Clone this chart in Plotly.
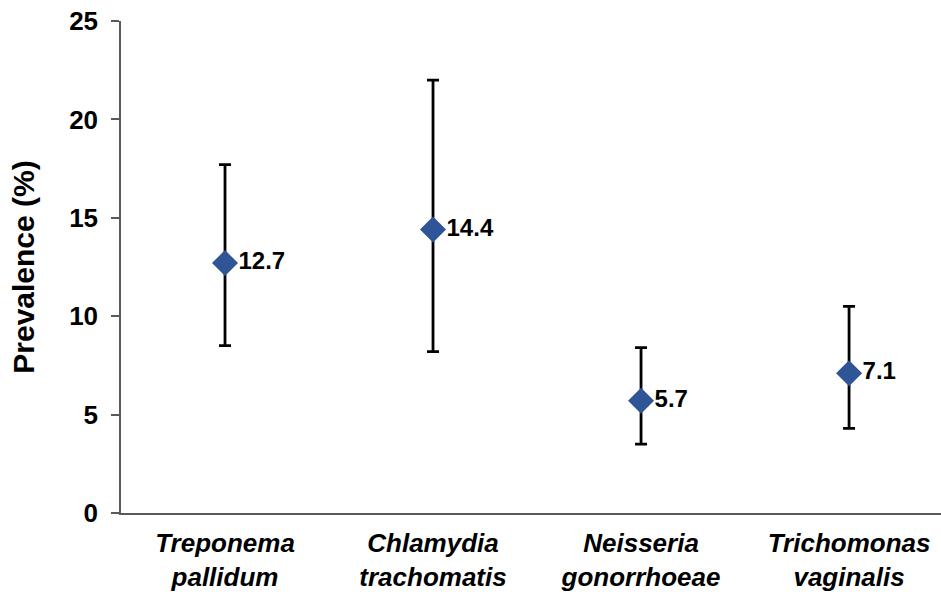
import plotly.graph_objects as go

categories = ["Treponema<br>pallidum", "Chlamydia<br>trachomatis", "Neisseria<br>gonorrhoeae", "Trichomonas<br>vaginalis"]
prevalence = [12.7, 14.4, 5.7, 7.1]
ci_low = [8.5, 8.2, 3.5, 4.3]
ci_high = [17.7, 22.0, 8.4, 10.5]
y_ticks = [0, 5, 10, 15, 20, 25]

x_pos = list(range(len(categories)))
err_plus = [h - v for h, v in zip(ci_high, prevalence)]
err_minus = [v - l for v, l in zip(prevalence, ci_low)]

FONT = "Liberation Sans, Arial, sans-serif"

fig = go.Figure()
fig.add_trace(go.Scatter(
    x=x_pos, y=prevalence,
    mode="markers+text",
    marker=dict(symbol="diamond", size=20, color="#2F5597", line=dict(width=0)),
    error_y=dict(type="data", symmetric=False, array=err_plus, arrayminus=err_minus,
                 color="black", thickness=2.8, width=6),
    text=[f"{v:.1f}" for v in prevalence],
    textposition="middle right",
    textfont=dict(family=FONT, size=24, color="black", weight="bold"),
    cliponaxis=False,
    showlegend=False,
))

fig.update_layout(
    width=941, height=594,
    margin=dict(l=121, r=0, t=21, b=81),
    plot_bgcolor="white", paper_bgcolor="white",
    font=dict(family=FONT, color="black"),
    xaxis=dict(
        range=[-0.5, 3.442],
        tickmode="array", tickvals=x_pos, ticktext=categories,
        tickfont=dict(family=FONT, size=26, color="black", weight="bold", style="italic"),
        showgrid=False, zeroline=False,
        showline=True, linecolor="#595959", linewidth=1.5,
        ticks="", ticklabelstandoff=6,
    ),
    yaxis=dict(
        range=[0, 25],
        tickmode="array", tickvals=y_ticks,
        tickfont=dict(family=FONT, size=26, color="black", weight="bold"),
        showgrid=False, zeroline=False,
        showline=True, linecolor="#595959", linewidth=1.5,
        ticks="outside", ticklen=8, tickwidth=1.5, tickcolor="#595959",
        ticklabelstandoff=8,
        title=dict(text="Prevalence (%)", font=dict(family=FONT, size=30, color="black", weight="bold"),
                   standoff=26),
    ),
)

fig.write_html("out.html")
